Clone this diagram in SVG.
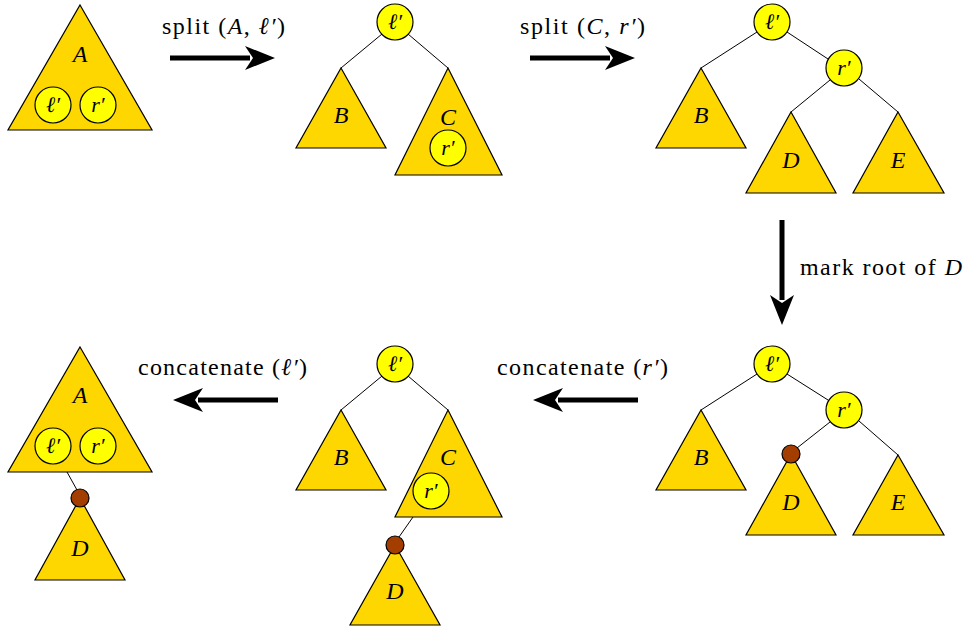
<svg xmlns="http://www.w3.org/2000/svg" width="966" height="628" viewBox="0 0 966 628">
<style>
.tri{fill:#FFD700;stroke:#000;stroke-width:1.2;stroke-linejoin:miter}
.nd{fill:#FFFF00;stroke:#000;stroke-width:1.2}
.mk{fill:#A33D00;stroke:#000;stroke-width:1.2}
.ed{stroke:#000;stroke-width:1;fill:none}
.m{font-family:"Liberation Serif","DejaVu Serif",serif;font-style:italic;font-size:24px;text-anchor:middle}
.s{font-family:"Liberation Serif","DejaVu Serif",serif;font-style:italic;font-size:22px;text-anchor:middle}
.t{font-family:"Liberation Serif","DejaVu Serif",serif;font-size:24px}
.t tspan.i{font-style:italic}
.ar{stroke:#000;stroke-width:5;fill:none}
.ah{fill:#000}
</style>
<rect width="966" height="628" fill="#fff"/>
<g id="connectors">
  <line class="ed" x1="382" y1="34" x2="341" y2="68"/>
  <line class="ed" x1="408" y1="34" x2="448" y2="68"/>
  <line class="ed" x1="757" y1="32" x2="701" y2="68"/>
  <line class="ed" x1="787" y1="32" x2="828" y2="59"/>
  <line class="ed" x1="830" y1="80" x2="791" y2="112"/>
  <line class="ed" x1="859" y1="79" x2="898" y2="112"/>
  <line class="ed" x1="757" y1="374" x2="701" y2="410"/>
  <line class="ed" x1="787" y1="374" x2="828" y2="400"/>
  <line class="ed" x1="830" y1="422" x2="797" y2="448"/>
  <line class="ed" x1="859" y1="421" x2="898" y2="455"/>
  <line class="ed" x1="382" y1="376" x2="341" y2="410"/>
  <line class="ed" x1="408" y1="376" x2="448" y2="410"/>
  <line class="ed" x1="413" y1="517" x2="399" y2="537"/>
  <line class="ed" x1="67" y1="472" x2="77" y2="490"/>
</g>
<g id="panel1">
  <polygon class="tri" points="80,5 152,130 8,130"/>
  <text class="m" x="80" y="62">A</text>
  <circle class="nd" cx="53" cy="105" r="18"/><text class="s" x="53" y="112">ℓ′</text>
  <circle class="nd" cx="98" cy="105" r="18"/><text class="s" x="98" y="112">r′</text>
</g>
<g id="arrow1">
  <line class="ar" x1="170" y1="58" x2="250" y2="58"/>
  <polygon class="ah" points="275,58 245,46 253,58 245,70"/>
  <text class="t" x="162" y="34" textLength="123">split (<tspan class="i">A</tspan>, <tspan class="i">ℓ′</tspan>)</text>
</g>
<g id="panel2">
  <circle class="nd" cx="395" cy="22" r="18"/><text class="s" x="395" y="29">ℓ′</text>
  <polygon class="tri" points="341,68 386,148 296,148"/>
  <text class="m" x="341" y="123">B</text>
  <polygon class="tri" points="448,68 502,175 395,175"/>
  <text class="m" x="448" y="125">C</text>
  <circle class="nd" cx="448" cy="148" r="18"/><text class="s" x="448" y="155">r′</text>
</g>
<g id="arrow2">
  <line class="ar" x1="530" y1="58" x2="610" y2="58"/>
  <polygon class="ah" points="635,58 605,46 613,58 605,70"/>
  <text class="t" x="520" y="34" textLength="125">split (<tspan class="i">C</tspan>, <tspan class="i">r′</tspan>)</text>
</g>
<g id="panel3">
  <circle class="nd" cx="772" cy="22" r="18"/><text class="s" x="772" y="29">ℓ′</text>
  <polygon class="tri" points="701,68 746,148 656,148"/>
  <text class="m" x="701" y="123">B</text>
  <circle class="nd" cx="844" cy="68" r="18"/><text class="s" x="844" y="75">r′</text>
  <polygon class="tri" points="791,112 836,193 746,193"/>
  <text class="m" x="791" y="168">D</text>
  <polygon class="tri" points="898,112 944,193 853,193"/>
  <text class="m" x="898" y="168">E</text>
</g>
<g id="arrow3">
  <line class="ar" x1="782" y1="220" x2="782" y2="300"/>
  <polygon class="ah" points="782,325 770,295 782,303 794,295"/>
  <text class="t" x="800" y="275" textLength="162">mark root of <tspan class="i">D</tspan></text>
</g>
<g id="panel4">
  <circle class="nd" cx="772" cy="364" r="18"/><text class="s" x="772" y="371">ℓ′</text>
  <polygon class="tri" points="701,410 746,490 656,490"/>
  <text class="m" x="701" y="465">B</text>
  <circle class="nd" cx="844" cy="410" r="18"/><text class="s" x="844" y="417">r′</text>
  <polygon class="tri" points="791,454 836,535 746,535"/>
  <text class="m" x="791" y="510">D</text>
  <circle class="mk" cx="791" cy="454" r="9"/>
  <polygon class="tri" points="898,455 944,535 853,535"/>
  <text class="m" x="898" y="510">E</text>
</g>
<g id="arrow4">
  <line class="ar" x1="638" y1="400" x2="558" y2="400"/>
  <polygon class="ah" points="533,400 563,388 555,400 563,412"/>
  <text class="t" x="497" y="375" textLength="171">concatenate (<tspan class="i">r′</tspan>)</text>
</g>
<g id="panel5">
  <circle class="nd" cx="395" cy="364" r="18"/><text class="s" x="395" y="371">ℓ′</text>
  <polygon class="tri" points="341,410 386,490 296,490"/>
  <text class="m" x="341" y="465">B</text>
  <polygon class="tri" points="448,410 502,517 395,517"/>
  <text class="m" x="448" y="465">C</text>
  <circle class="nd" cx="431" cy="491" r="18"/><text class="s" x="431" y="498">r′</text>
  <polygon class="tri" points="395,545 440,625 350,625"/>
  <text class="m" x="395" y="599">D</text>
  <circle class="mk" cx="395" cy="545" r="9"/>
</g>
<g id="arrow5">
  <line class="ar" x1="278" y1="400" x2="198" y2="400"/>
  <polygon class="ah" points="173,400 203,388 195,400 203,412"/>
  <text class="t" x="138" y="375" textLength="169">concatenate (<tspan class="i">ℓ′</tspan>)</text>
</g>
<g id="panel6">
  <polygon class="tri" points="80,347 152,472 8,472"/>
  <text class="m" x="80" y="403">A</text>
  <circle class="nd" cx="53" cy="446" r="18"/><text class="s" x="53" y="453">ℓ′</text>
  <circle class="nd" cx="98" cy="446" r="18"/><text class="s" x="98" y="453">r′</text>
  <polygon class="tri" points="80,498 125,580 35,580"/>
  <text class="m" x="80" y="556">D</text>
  <circle class="mk" cx="80" cy="498" r="9"/>
</g>
</svg>
